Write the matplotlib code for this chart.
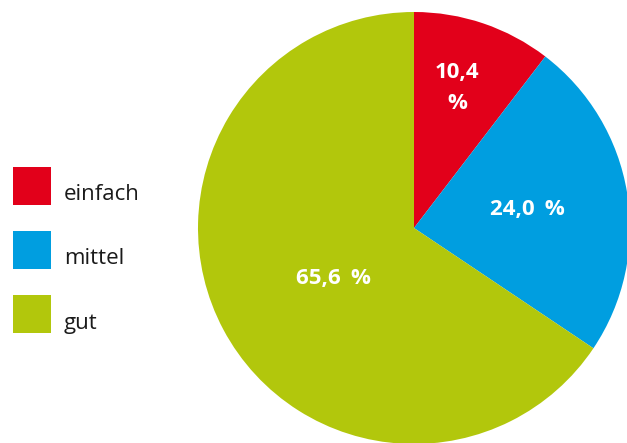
import numpy as np
import matplotlib.pyplot as plt
from matplotlib.patches import Rectangle

categories = ["einfach", "mittel", "gut"]
shares = [10.4, 24.0, 65.6]
value_labels = ["10,4\n%", "24,0 %", "65,6 %"]
colors = ["#E2001A", "#009EE0", "#B2C70C"]

plt.rcParams["font.family"] = ["Open Sans", "DejaVu Sans"]

W, H = 627, 443
fig = plt.figure(figsize=(W / 100, H / 100), dpi=100)

# pie axes placed in pixel terms: centre (414, 228) from top-left, radius 216
cx, cy, r = 414, 228, 216
ax = fig.add_axes([(cx - r) / W, (H - cy - r) / H, 2 * r / W, 2 * r / H])
wedges, _ = ax.pie(shares, colors=colors, startangle=90, counterclock=False,
                   radius=1.0, wedgeprops=dict(linewidth=0))
ax.set_xlim(-1, 1)
ax.set_ylim(-1, 1)
ax.set_aspect("equal")
ax.axis("off")

# label radius and angular shift (deg) relative to each wedge's middle
label_r = [0.68, 0.53, 0.44]
label_shift = [1.5, 0, 4]
for w, lab, lr, sh in zip(wedges, value_labels, label_r, label_shift):
    mid = np.deg2rad((w.theta1 + w.theta2) / 2 + sh)
    ax.text(lr * np.cos(mid), lr * np.sin(mid), lab.replace(" %", "\u2009 %"),
            ha="center", va="center", color="white", fontsize=16,
            fontweight="bold", linespacing=1.6)

# legend
box_tops = [167, 231, 295]
for cat, col, top in zip(categories, colors, box_tops):
    fig.add_artist(Rectangle((13 / W, (H - top - 38) / H), 38 / W, 38 / H,
                             transform=fig.transFigure, facecolor=col,
                             edgecolor="none"))
    fig.text(64 / W, (H - top - 28) / H, cat, ha="left", va="center",
             fontsize=16, color="#1a1a1a")

fig.savefig("out.png", dpi=100)
